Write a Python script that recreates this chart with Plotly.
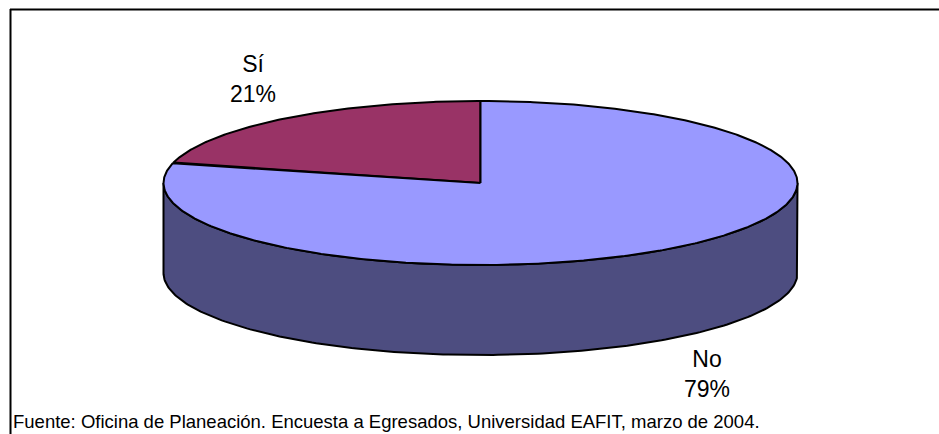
import numpy as np
import plotly.graph_objects as go

# ---- data ----
categories = ["Sí", "No"]
values = [21, 79]
pct_labels = ["21%", "79%"]
source_text = "Fuente: Oficina de Planeación. Encuesta a Egresados, Universidad EAFIT, marzo de 2004."

# ---- styling / geometry ----
W, H = 939, 434
CX, CY = 480.5, 183.0   # ellipse centre (px)
RX, RY = 317.0, 82.0    # ellipse radii
DEPTH = 90.0            # pie thickness
top_colors = {"Sí": "#993366", "No": "#9999FF"}
side_color = "#4D4D80"
FONT = "Liberation Sans, Arial, sans-serif"

def ell(theta_deg, dy=0.0):
    t = np.radians(theta_deg)
    return CX + RX * np.cos(t), CY - RY * np.sin(t) + dy

fig = go.Figure()

# slice angles: start at 12 o'clock, counter-clockwise
total = sum(values)
start = 90.0
angles = []
for v in values:
    span = 360.0 * v / total
    angles.append((start, start + span))
    start += span

# side (front half visible: 180..360 deg)
th = np.linspace(180, 360, 200)
xt, yt = ell(th)
xb, yb = ell(th[::-1], DEPTH)
fig.add_trace(go.Scatter(
    x=np.concatenate([xt, xb, xt[:1]]), y=np.concatenate([yt, yb, yt[:1]]),
    mode="lines", fill="toself", fillcolor=side_color,
    line=dict(color="black", width=2), hoverinfo="skip", showlegend=False))

# top faces
for cat, (a0, a1) in zip(categories, angles):
    n = max(int((a1 - a0) * 2), 10)
    th = np.linspace(a0, a1, n)
    xs, ys = ell(th)
    x = np.concatenate([[CX], xs, [CX]])
    y = np.concatenate([[CY], ys, [CY]])
    fig.add_trace(go.Scatter(
        x=x, y=y, mode="lines", fill="toself", fillcolor=top_colors[cat],
        line=dict(color="black", width=2), hoverinfo="skip", showlegend=False))

# labels
label_pos = {"Sí": (253, 79), "No": (707, 374)}
for cat, pct in zip(categories, pct_labels):
    lx, ly = label_pos[cat]
    fig.add_annotation(x=lx, y=ly, text=f"{cat}<br>{pct}", showarrow=False,
                       xanchor="center", yanchor="middle",
                       font=dict(family=FONT, size=23, color="black"))

fig.add_annotation(x=11, y=421, text=source_text, showarrow=False,
                   xanchor="left", yanchor="middle",
                   font=dict(family=FONT, size=18.5, color="black"))

# outer frame (top and left edges; the rest runs off the picture)
fig.add_shape(type="line", xref="paper", yref="paper", x0=10 / W, x1=1.0,
              y0=1 - 9.5 / H, y1=1 - 9.5 / H, line=dict(color="black", width=2))
fig.add_shape(type="line", xref="paper", yref="paper", x0=10.5 / W, x1=10.5 / W,
              y0=1 - 9 / H, y1=0.0, line=dict(color="black", width=2))

fig.update_layout(
    width=W, height=H, margin=dict(l=0, r=0, t=0, b=0),
    paper_bgcolor="white", plot_bgcolor="white",
    xaxis=dict(range=[0, W], visible=False, fixedrange=True),
    yaxis=dict(range=[H, 0], visible=False, fixedrange=True),
    showlegend=False,
)

fig.write_html(
    "out.html",
    config={"displayModeBar": False},
    post_script="document.body.style.margin='0';"
                "document.body.style.overflow='hidden';"
                "document.documentElement.style.overflow='hidden';",
)
